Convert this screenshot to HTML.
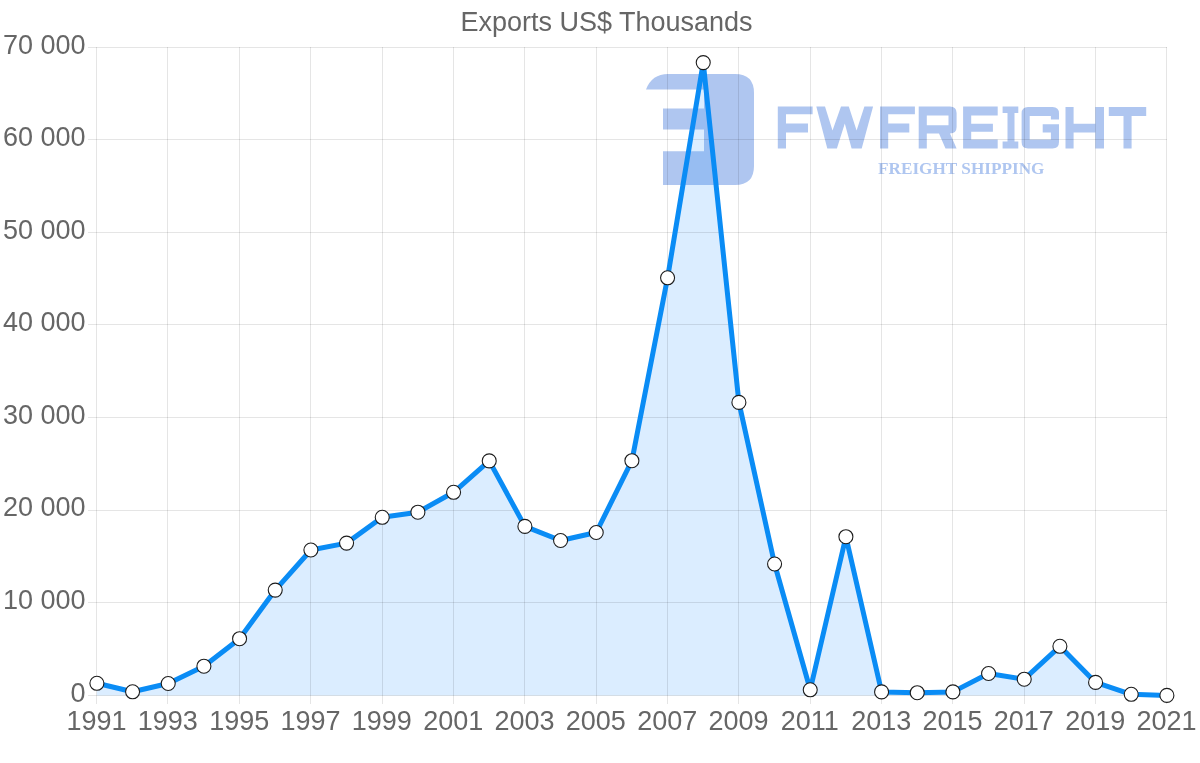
<!DOCTYPE html>
<html><head><meta charset="utf-8"><style>
html,body{margin:0;padding:0;background:#fff;width:1200px;height:763px;overflow:hidden}
svg{display:block;will-change:transform}
text{font-family:"Liberation Sans",sans-serif;fill:#666}
</style></head><body>
<svg width="1200" height="763" viewBox="0 0 1200 763">
<rect width="1200" height="763" fill="#fff"/>
<g fill="#afc6f0">
<path d="M646,89.4 Q652,74 668,74 L735,74 Q754,74 754,93 L754,166 Q754,185 735,185 L663,185 L663,151.2 L704,151.2 L704,129.4 L663,129.4 L663,108.6 L704,108.6 L704,89.4 Z"/>
<path d="M777.8,106.5 H812.6 V114.3 H786 V123.4 H808 V132.6 H786 V148.6 H777.8 Z"/>
<path d="M816.3,106.5 L825,106.5 L832.5,130.5 L841,106.5 L848.8,106.5 L856.6,130.5 L864.4,106.5 L873.1,106.5 L861.7,148.6 L851.6,148.6 L844.8,123.4 L836.9,148.6 L827.3,148.6 Z"/>
<path d="M880,106.5 H914.9 V114.3 H888.2 V123.4 H909.3 V132.6 H888.2 V148.6 H880 Z"/>
<path d="M918.7,106.4 H950 Q956.6,106.4 956.6,113 V127 Q956.6,133.5 950,133.5 L956.6,148.6 H945.5 L939,133.5 H926.8 V148.6 H918.7 Z M926.8,115.6 V125.3 H948.5 V115.6 Z" fill-rule="evenodd"/>
<path d="M963.1,106.4 H997.7 V115.6 H971.2 V123.7 H992.9 V131.8 H971.2 V139.4 H997.7 V148.6 H963.1 Z"/>
<path d="M1002.6,106.4 H1018.3 V112.9 H1014.5 V141.6 H1018.3 V148.6 H1002.6 V141.6 H1007.5 V112.9 H1002.6 Z"/>
<path d="M1028,106.9 H1052.5 Q1059,106.9 1059,113.4 V119.4 H1050.9 V116.1 H1029.7 V139.4 H1050.9 V132.4 H1042.7 V124.2 H1059 V142.1 Q1059,148.6 1052.5,148.6 H1028 Q1021.6,148.6 1021.6,142.1 V113.4 Q1021.6,106.9 1028,106.9 Z"/>
<path d="M1065.5,106.9 H1073.6 V123.7 H1095.3 V106.9 H1104 V148.6 H1095.3 V132.4 H1073.6 V148.6 H1065.5 Z"/>
<path d="M1108.8,106.9 H1146.2 V116.1 H1131.6 V148.6 H1123.5 V116.1 H1108.8 Z"/>
</g>
<text x="878" y="174.3" style="font-family:'Liberation Serif';font-weight:bold;font-size:17.2px;fill:#afc6f0" textLength="166.5" lengthAdjust="spacingAndGlyphs">FREIGHT SHIPPING</text>
<path d="M96.90,695.5 L96.90,683.30 L132.57,691.80 L168.23,683.50 L203.90,666.20 L239.57,638.70 L275.23,590.10 L310.90,550.00 L346.57,543.10 L382.23,517.30 L417.90,512.20 L453.57,492.30 L489.23,460.90 L524.90,526.40 L560.57,540.50 L596.23,532.50 L631.90,460.70 L667.57,277.80 L703.23,62.60 L738.90,402.40 L774.57,564.00 L810.23,689.80 L845.90,536.70 L881.57,691.90 L917.23,692.70 L952.90,691.90 L988.57,673.50 L1024.23,679.20 L1059.90,646.30 L1095.57,682.40 L1131.23,694.30 L1166.90,695.40 L1166.90,695.5 Z" fill="rgba(30,144,255,0.16)"/>
<g stroke="rgba(0,0,0,0.1)" stroke-width="1">
<line x1="96.5" y1="47" x2="96.5" y2="704"/><line x1="167.5" y1="47" x2="167.5" y2="704"/><line x1="239.5" y1="47" x2="239.5" y2="704"/><line x1="310.5" y1="47" x2="310.5" y2="704"/><line x1="382.5" y1="47" x2="382.5" y2="704"/><line x1="453.5" y1="47" x2="453.5" y2="704"/><line x1="524.5" y1="47" x2="524.5" y2="704"/><line x1="596.5" y1="47" x2="596.5" y2="704"/><line x1="667.5" y1="47" x2="667.5" y2="704"/><line x1="738.5" y1="47" x2="738.5" y2="704"/><line x1="810.5" y1="47" x2="810.5" y2="704"/><line x1="881.5" y1="47" x2="881.5" y2="704"/><line x1="952.5" y1="47" x2="952.5" y2="704"/><line x1="1024.5" y1="47" x2="1024.5" y2="704"/><line x1="1095.5" y1="47" x2="1095.5" y2="704"/><line x1="1166.5" y1="47" x2="1166.5" y2="704"/><line x1="88" y1="695.5" x2="1167" y2="695.5"/><line x1="88" y1="602.5" x2="1167" y2="602.5"/><line x1="88" y1="510.5" x2="1167" y2="510.5"/><line x1="88" y1="417.5" x2="1167" y2="417.5"/><line x1="88" y1="324.5" x2="1167" y2="324.5"/><line x1="88" y1="232.5" x2="1167" y2="232.5"/><line x1="88" y1="139.5" x2="1167" y2="139.5"/><line x1="88" y1="47.5" x2="1167" y2="47.5"/>
</g>
<polyline points="96.90,683.30 132.57,691.80 168.23,683.50 203.90,666.20 239.57,638.70 275.23,590.10 310.90,550.00 346.57,543.10 382.23,517.30 417.90,512.20 453.57,492.30 489.23,460.90 524.90,526.40 560.57,540.50 596.23,532.50 631.90,460.70 667.57,277.80 703.23,62.60 738.90,402.40 774.57,564.00 810.23,689.80 845.90,536.70 881.57,691.90 917.23,692.70 952.90,691.90 988.57,673.50 1024.23,679.20 1059.90,646.30 1095.57,682.40 1131.23,694.30 1166.90,695.40" fill="none" stroke="#0a8cf5" stroke-width="5" stroke-linejoin="round"/>
<g fill="#fff" stroke="#1c1c1c" stroke-width="1.1"><circle cx="96.90" cy="683.30" r="7"/><circle cx="132.57" cy="691.80" r="7"/><circle cx="168.23" cy="683.50" r="7"/><circle cx="203.90" cy="666.20" r="7"/><circle cx="239.57" cy="638.70" r="7"/><circle cx="275.23" cy="590.10" r="7"/><circle cx="310.90" cy="550.00" r="7"/><circle cx="346.57" cy="543.10" r="7"/><circle cx="382.23" cy="517.30" r="7"/><circle cx="417.90" cy="512.20" r="7"/><circle cx="453.57" cy="492.30" r="7"/><circle cx="489.23" cy="460.90" r="7"/><circle cx="524.90" cy="526.40" r="7"/><circle cx="560.57" cy="540.50" r="7"/><circle cx="596.23" cy="532.50" r="7"/><circle cx="631.90" cy="460.70" r="7"/><circle cx="667.57" cy="277.80" r="7"/><circle cx="703.23" cy="62.60" r="7"/><circle cx="738.90" cy="402.40" r="7"/><circle cx="774.57" cy="564.00" r="7"/><circle cx="810.23" cy="689.80" r="7"/><circle cx="845.90" cy="536.70" r="7"/><circle cx="881.57" cy="691.90" r="7"/><circle cx="917.23" cy="692.70" r="7"/><circle cx="952.90" cy="691.90" r="7"/><circle cx="988.57" cy="673.50" r="7"/><circle cx="1024.23" cy="679.20" r="7"/><circle cx="1059.90" cy="646.30" r="7"/><circle cx="1095.57" cy="682.40" r="7"/><circle cx="1131.23" cy="694.30" r="7"/><circle cx="1166.90" cy="695.40" r="7"/></g>
<g font-size="27"><text x="85.5" y="701.50" text-anchor="end">0</text><text x="85.5" y="608.93" text-anchor="end">10 000</text><text x="85.5" y="516.36" text-anchor="end">20 000</text><text x="85.5" y="423.79" text-anchor="end">30 000</text><text x="85.5" y="331.21" text-anchor="end">40 000</text><text x="85.5" y="238.64" text-anchor="end">50 000</text><text x="85.5" y="146.07" text-anchor="end">60 000</text><text x="85.5" y="53.50" text-anchor="end">70 000</text><text x="96.50" y="730" text-anchor="middle">1991</text><text x="167.83" y="730" text-anchor="middle">1993</text><text x="239.17" y="730" text-anchor="middle">1995</text><text x="310.50" y="730" text-anchor="middle">1997</text><text x="381.83" y="730" text-anchor="middle">1999</text><text x="453.17" y="730" text-anchor="middle">2001</text><text x="524.50" y="730" text-anchor="middle">2003</text><text x="595.83" y="730" text-anchor="middle">2005</text><text x="667.17" y="730" text-anchor="middle">2007</text><text x="738.50" y="730" text-anchor="middle">2009</text><text x="809.83" y="730" text-anchor="middle">2011</text><text x="881.17" y="730" text-anchor="middle">2013</text><text x="952.50" y="730" text-anchor="middle">2015</text><text x="1023.83" y="730" text-anchor="middle">2017</text><text x="1095.17" y="730" text-anchor="middle">2019</text><text x="1166.50" y="730" text-anchor="middle">2021</text></g>
<text x="606.5" y="31" text-anchor="middle" font-size="27">Exports US$ Thousands</text>
</svg>
</body></html>
